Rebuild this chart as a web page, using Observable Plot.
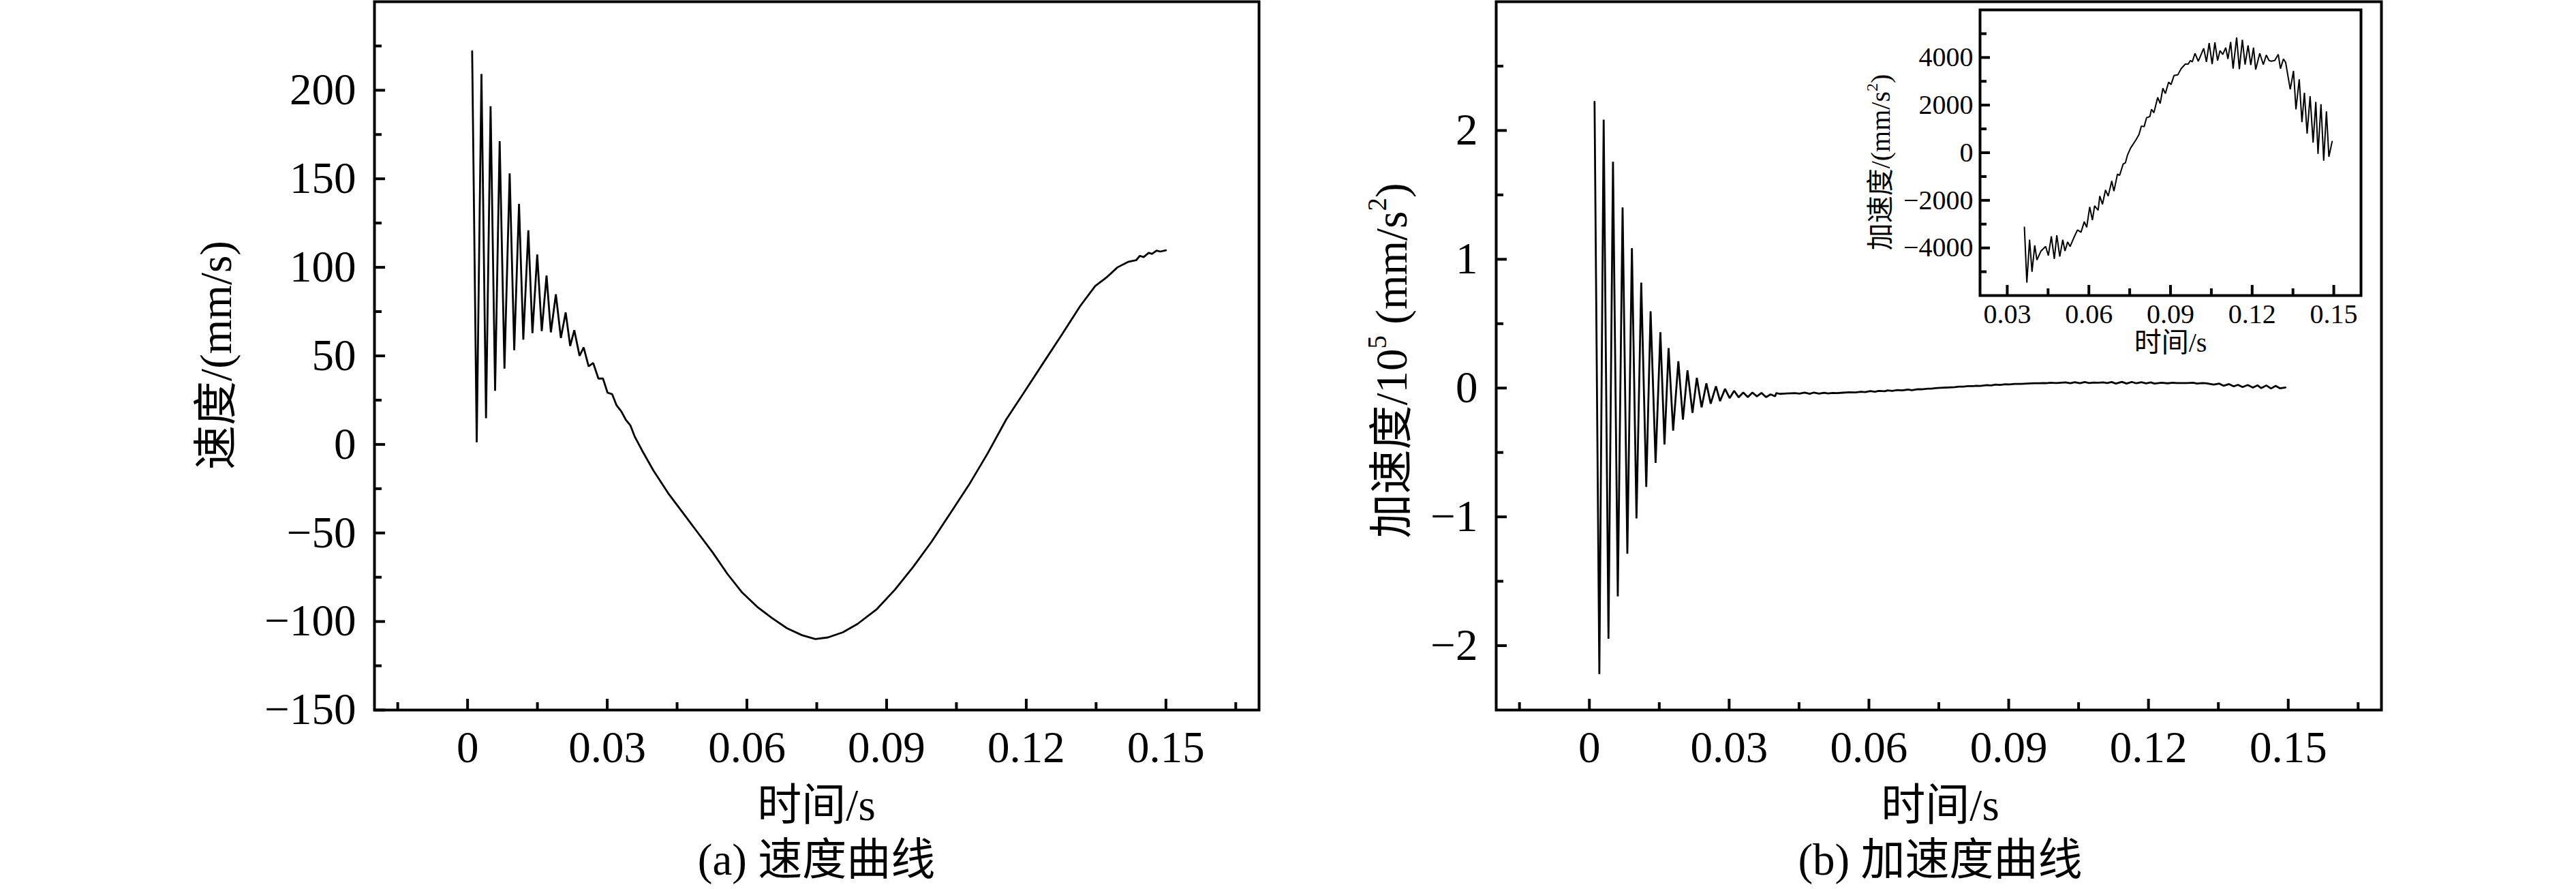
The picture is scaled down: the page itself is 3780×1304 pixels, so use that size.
<!DOCTYPE html>
<html>
<head>
<meta charset="utf-8">
<script src="https://cdn.jsdelivr.net/npm/d3@7"></script>
<script src="https://cdn.jsdelivr.net/npm/@observablehq/plot@0.6"></script>
<style>
  html, body { margin: 0; padding: 0; background: #fff; }
  #root { position: relative; width: 3780px; height: 1304px; overflow: hidden; background: #fff;
          font-family: "Liberation Serif", "Noto Sans CJK SC", serif; color: #000; }
  #root svg { position: absolute; overflow: visible; }
  .lbl { position: absolute; white-space: nowrap; line-height: 1; transform: translate(-50%, -50%); }
  .rot { transform: translate(-50%, -50%) rotate(-90deg); }
  .big { font-size: 65px; }
  .small { font-size: 40px; }
  sup { font-size: 0.6em; vertical-align: 0.75em; line-height: 0; }
</style>
</head>
<body>
<div id="root"></div>
<script>
// ---------------- data ----------------
// (a) velocity, mm/s
const velT = [0.00098,0.00196,0.00298,0.00396,0.00494,0.00591,0.00689,0.00792,0.00904,0.01002,
  0.01105,0.01197,0.01305,0.01393,0.01496,0.01593,0.01696,0.01789,0.01896,0.02004,
  0.02107,0.02204,0.02292,0.02405,0.02493,0.02600,0.02698,0.02810,0.02908,0.03006,
  0.03104,0.03201,0.03299,0.03397,0.03495,0.03592,0.0375,0.0399,0.0431,0.0463,
  0.0495,0.0527,0.0558,0.0590,0.0622,0.0654,0.0686,0.0718,0.0747,0.0774,
  0.0806,0.0838,0.0878,0.0918,0.0957,0.0997,0.1037,0.1077,0.1117,0.1157,
  0.1197,0.1237,0.1277,0.1316,0.1348,0.1372,0.1396,0.1420,0.1436,0.1444,
  0.1452,0.1463,0.1470,0.1480,0.1488,0.1500];
const velV = [222.0,1.2,209.2,14.8,191.0,30.3,171.3,42.8,153.1,53.2,
  135.8,59.2,120.9,62.8,107.2,64.0,95.4,63.3,84.8,60.1,
  74.5,55.6,64.5,50.0,54.8,44.1,46.0,37.2,37.2,29.2,
  28.4,22.0,18.8,14.0,10.8,4.3,-3.5,-14.7,-27.6,-38.8,
  -50.0,-61.2,-73.1,-83.7,-91.7,-98.1,-103.8,-107.7,-109.9,-109.0,
  -106.1,-101.3,-93.3,-82.0,-69.2,-54.8,-38.8,-22.8,-5.1,14.1,
  30.1,46.2,62.2,78.2,89.4,94.2,100.0,103.2,104.0,106.5,
  105.8,108.2,107.6,109.4,108.9,109.6];

// (b) acceleration, early oscillation, in units of 10^5 mm/s^2
const accT = [0.00111,0.00214,0.00307,0.00410,0.00507,0.00610,0.00713,0.00815,0.00913,0.01011,
  0.01113,0.01221,0.01314,0.01421,0.01524,0.01612,0.01700,0.01798,0.01910,0.02008,
  0.02106,0.02213,0.02306,0.02409,0.02511,0.02604,0.02717,0.02805,0.02912,0.03010,
  0.03107,0.03205,0.03303,0.03401,0.03499,0.03596,0.03694,0.03792,0.03890,0.03987];
const accV = [2.222,-2.221,2.084,-1.947,1.757,-1.617,1.403,-1.286,1.086,-1.013,
  0.819,-0.768,0.597,-0.581,0.434,-0.438,0.310,-0.331,0.209,-0.245,
  0.138,-0.193,0.080,-0.150,0.037,-0.121,0.014,-0.101,-0.006,-0.078,
  -0.021,-0.072,-0.035,-0.070,-0.035,-0.064,-0.038,-0.070,-0.049,-0.064];

// inset: acceleration after the transient, mm/s^2
const insetT = [0.0363,0.0372,0.0382,0.0391,0.0401,0.0409,0.0424,0.0441,0.0451,0.0462,
  0.0473,0.0482,0.0493,0.0504,0.0512,0.0522,0.0531,0.0544,0.0558,0.0571,
  0.0583,0.0592,0.0603,0.0613,0.0621,0.0634,0.0640,0.0650,0.0661,0.0671,
  0.0684,0.0692,0.0705,0.0713,0.0726,0.0734,0.0742,0.0753,0.0772,0.0784,
  0.0793,0.0803,0.0812,0.0824,0.0830,0.0839,0.0853,0.0862,0.0872,0.0881,
  0.0893,0.0902,0.0913,0.0927,0.0939,0.0954,0.0965,0.0973,0.0980,0.0990,
  0.1002,0.1022,0.1032,0.1042,0.1053,0.1063,0.1073,0.1082,0.1092,0.1103,
  0.1111,0.1121,0.1130,0.1143,0.1153,0.1164,0.1174,0.1185,0.1195,0.1205,
  0.1213,0.1228,0.1241,0.1252,0.1262,0.1270,0.1283,0.1296,0.1304,0.1315,
  0.1323,0.1340,0.1352,0.1361,0.1373,0.1383,0.1392,0.1402,0.1413,0.1424,
  0.1434,0.1442,0.1453,0.1463,0.1473,0.1482,0.1494];
const insetV = [-3132,-5458,-3654,-5002,-3892,-4509,-4129,-3939,-4319,-3512,
  -4461,-3465,-4366,-3654,-4129,-3749,-3939,-3588,-3246,-3341,
  -2895,-3132,-2278,-2829,-2231,-2420,-1822,-2164,-1566,-1822,
  -1187,-1614,-902,-949,-475,-427,-95,190,522,759,
  1120,1092,1471,1519,1822,1680,2326,2069,2705,2487,
  2962,2867,3246,3275,3531,3721,3721,3873,3816,4176,
  3844,4385,3816,4604,3721,4632,3873,4290,4129,4414,
  3939,4651,3531,4841,3512,4746,3702,4509,3683,4414,
  3493,4176,3702,4101,3873,3844,3873,4129,3531,3939,
  3797,2658,3436,1822,3085,1281,2515,807,2373,427,
  2136,-47,2041,-332,1737,-171,475];
const accelUnit = 1e5; // main panel axis is in 10^5 mm/s^2

// ticks
const xMajor = [0, 0.03, 0.06, 0.09, 0.12, 0.15];
const xMinor = [-0.015, 0.015, 0.045, 0.075, 0.105, 0.135, 0.165];
const velMajor = [-150, -100, -50, 0, 50, 100, 150, 200];
const velMinor = [-125, -75, -25, 25, 75, 125, 175, 225];
const accMajor = [-2, -1, 0, 1, 2];
const accMinor = [-1.5, -0.5, 0.5, 1.5, 2.5];
const inXMajor = [0.03, 0.06, 0.09, 0.12, 0.15];
const inXMinor = [0.045, 0.075, 0.105, 0.135];
const inYMajor = [-4000, -2000, 0, 2000, 4000];
const inYMinor = [-5000, -3000, -1000, 1000, 3000, 5000];

// ---------------- helpers ----------------
const fmt = d => d < 0 ? "\u2212" + String(Math.abs(d)) : String(d);
const FONT = '"Liberation Serif", "Noto Sans CJK SC", serif';
const NUMFONT = "Liberation Serif";
const velData = velT.map((t, i) => ({t, v: velV[i]}));
const accData = accT.map((t, i) => ({t, v: accV[i]}))
  .concat(insetT.map((t, i) => ({t, v: insetV[i] / accelUnit})).filter(d => d.t > 0.0400));
const insetData = insetT.map((t, i) => ({t, v: insetV[i]}));

function axes({xMaj, xMin, yMaj, yMin, fs, lenMaj, lenMin, padX, padY, sw}) {
  return [
    Plot.axisX({ticks: xMaj, tickSize: 0, tickPadding: padX, tickFormat: fmt, fontSize: fs, fontFamily: NUMFONT, label: null}),
    Plot.axisX({ticks: xMaj, tickSize: lenMaj, dy: -lenMaj, text: null, label: null, strokeWidth: sw}),
    Plot.axisX({ticks: xMin, tickSize: lenMin, dy: -lenMin, text: null, label: null, strokeWidth: sw}),
    Plot.axisY({ticks: yMaj, tickSize: 0, tickPadding: padY, tickFormat: fmt, fontSize: fs, fontFamily: NUMFONT, label: null}),
    Plot.axisY({ticks: yMaj, tickSize: lenMaj, dx: lenMaj, text: null, label: null, strokeWidth: sw}),
    Plot.axisY({ticks: yMin, tickSize: lenMin, dx: lenMin, text: null, label: null, strokeWidth: sw})
  ];
}

const root = document.getElementById("root");
function place(svg, left, top) {
  svg.style.left = left + "px";
  svg.style.top = top + "px";
  root.appendChild(svg);
}
function label(html, x, y, cls) {
  const d = document.createElement("div");
  d.className = "lbl " + cls;
  d.innerHTML = html;
  d.style.left = x + "px";
  d.style.top = y + "px";
  root.appendChild(d);
}

// ---------------- (a) velocity ----------------
const plotA = Plot.plot({
  width: 1900, height: 1130,
  marginLeft: 549, marginRight: 53, marginTop: 2, marginBottom: 89,
  x: {domain: [-0.02, 0.17]},
  y: {domain: [-150, 250]},
  style: {fontFamily: FONT, background: "transparent", color: "#000"},
  marks: [
    ...axes({xMaj: xMajor, xMin: xMinor, yMaj: velMajor, yMin: velMinor, fs: 65, lenMaj: 16, lenMin: 11, padX: 30, padY: 27, sw: 4}),
    Plot.line(velData, {x: "t", y: "v", stroke: "#000", strokeWidth: 2.8, strokeLinejoin: "miter"}),
    Plot.frame({stroke: "#000", strokeWidth: 4})
  ]
});
place(plotA, 0, 0);

// ---------------- (b) acceleration ----------------
const plotB = Plot.plot({
  width: 1600, height: 1130,
  marginLeft: 245, marginRight: 56, marginTop: 2, marginBottom: 89,
  x: {domain: [-0.02, 0.17]},
  y: {domain: [-2.5, 3]},
  style: {fontFamily: FONT, background: "transparent", color: "#000"},
  marks: [
    ...axes({xMaj: xMajor, xMin: xMinor, yMaj: accMajor, yMin: accMinor, fs: 65, lenMaj: 16, lenMin: 11, padX: 30, padY: 27, sw: 4}),
    Plot.line(accData, {x: "t", y: "v", stroke: "#000", strokeWidth: 2.8, strokeLinejoin: "miter"}),
    Plot.frame({stroke: "#000", strokeWidth: 4})
  ]
});
place(plotB, 1950, 0);

// ---------------- inset ----------------
const plotI = Plot.plot({
  width: 694, height: 540,
  marginLeft: 125, marginRight: 10, marginTop: 14, marginBottom: 107,
  x: {domain: [0.02, 0.16]},
  y: {domain: [-6000, 6000]},
  style: {fontFamily: FONT, background: "transparent", color: "#000"},
  marks: [
    Plot.frame({fill: "#fff", stroke: null}),
    ...axes({xMaj: inXMajor, xMin: inXMinor, yMaj: inYMajor, yMin: inYMinor, fs: 40, lenMaj: 15, lenMin: 10, padX: 12, padY: 10, sw: 4}),
    Plot.line(insetData, {x: "t", y: "v", stroke: "#000", strokeWidth: 2, strokeLinejoin: "miter"}),
    Plot.frame({stroke: "#000", strokeWidth: 4})
  ]
});
place(plotI, 2780, 0);

// ---------------- titles ----------------
label("速度/(mm/s)", 317, 521, "big rot");
label("时间/s", 1198, 1181, "big");
label("(a) 速度曲线", 1198, 1261, "big");
label("加速度/10<sup>5</sup> (mm/s<sup>2</sup>)", 2042, 529, "big rot");
label("时间/s", 2847, 1181, "big");
label("(b) 加速度曲线", 2847, 1261, "big");
label("加速度/(mm/s<sup>2</sup>)", 2760, 238, "small rot");
label("时间/s", 3185, 503, "small");
</script>
</body>
</html>
